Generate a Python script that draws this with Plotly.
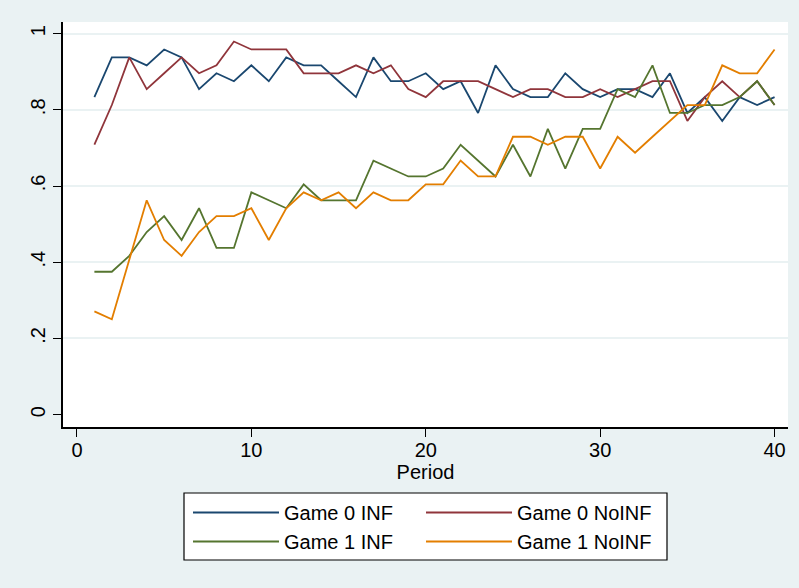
import plotly.graph_objects as go

period = list(range(1, 41))

game0_inf = [0.8333, 0.9375, 0.9375, 0.9167, 0.9583, 0.9375, 0.8542, 0.8958, 0.875, 0.9167,
             0.875, 0.9375, 0.9167, 0.9167, 0.875, 0.8333, 0.9375, 0.875, 0.875, 0.8958,
             0.8542, 0.875, 0.7917, 0.9167, 0.8542, 0.8333, 0.8333, 0.8958, 0.8542, 0.8333,
             0.8542, 0.8542, 0.8333, 0.8958, 0.7917, 0.8333, 0.7708, 0.8333, 0.8125, 0.8333]

game0_noinf = [0.7083, 0.8125, 0.9375, 0.8542, 0.8958, 0.9375, 0.8958, 0.9167, 0.9792, 0.9583,
               0.9583, 0.9583, 0.8958, 0.8958, 0.8958, 0.9167, 0.8958, 0.9167, 0.8542, 0.8333,
               0.875, 0.875, 0.875, 0.8542, 0.8333, 0.8542, 0.8542, 0.8333, 0.8333, 0.8542,
               0.8333, 0.8542, 0.875, 0.875, 0.7708, 0.8333, 0.875, 0.8333, 0.875, 0.8125]

game1_inf = [0.375, 0.375, 0.4167, 0.4792, 0.5208, 0.4583, 0.5417, 0.4375, 0.4375, 0.5833,
             0.5625, 0.5417, 0.6042, 0.5625, 0.5625, 0.5625, 0.6667, 0.6458, 0.625, 0.625,
             0.6458, 0.7083, 0.6667, 0.625, 0.7083, 0.625, 0.75, 0.6458, 0.75, 0.75,
             0.8542, 0.8333, 0.9167, 0.7917, 0.7917, 0.8125, 0.8125, 0.8333, 0.875, 0.8125]

game1_noinf = [0.2708, 0.25, 0.4063, 0.5625, 0.4583, 0.4167, 0.4792, 0.5208, 0.5208, 0.5417,
               0.4583, 0.5417, 0.5833, 0.5625, 0.5833, 0.5417, 0.5833, 0.5625, 0.5625, 0.6042,
               0.6042, 0.6667, 0.625, 0.625, 0.7292, 0.7292, 0.7083, 0.7292, 0.7292, 0.6458,
               0.7292, 0.6875, 0.7292, 0.7708, 0.8125, 0.8125, 0.9167, 0.8958, 0.8958, 0.9583]

series_names = ["Game 0 INF", "Game 0 NoINF", "Game 1 INF", "Game 1 NoINF"]
series_values = [game0_inf, game0_noinf, game1_inf, game1_noinf]
series_colors = ["#1A476F", "#90353B", "#55752F", "#E37E00"]
series_legend = ["legend", "legend2", "legend", "legend2"]

x_ticks = [0, 10, 20, 30, 40]
y_ticks = [0, 0.2, 0.4, 0.6, 0.8, 1]
y_ticktext = ["0", ".2", ".4", ".6", ".8", "1"]
grid_ticks = [0.2, 0.4, 0.6, 0.8, 1]

FONT = "Liberation Sans, Arial, sans-serif"
BG = "#EAF2F3"
FS = 20

fig = go.Figure()
for name, vals, col, lg in zip(series_names, series_values, series_colors, series_legend):
    fig.add_trace(go.Scatter(x=period, y=vals, mode="lines", name=name,
                             line=dict(color=col, width=1.8), legend=lg,
                             legendgroup=name))

# dummy trace for grid overlay axis
fig.add_trace(go.Scatter(x=[None], y=[None], yaxis="y2", showlegend=False,
                         hoverinfo="skip"))

yr = [-0.0325, 1.0304]
W, H = 799, 588
ml, mr, mt, mb = 63, 11, 22, 161
pw = W - ml - mr
ph = H - mt - mb

def px2paper_x(px):
    return (px - ml) / pw

def py2paper_y(py):
    return (H - mb - py) / ph

fig.update_layout(
    template="none",
    width=W, height=H,
    margin=dict(l=ml, r=mr, t=mt, b=mb, pad=0, autoexpand=False),
    paper_bgcolor=BG, plot_bgcolor="white",
    font=dict(family=FONT, size=FS, color="black"),
    xaxis=dict(range=[-0.80, 40.77], tickvals=x_ticks, ticks="outside", ticklen=8,
               tickwidth=1.3, tickcolor="black", showline=True, linecolor="black",
               linewidth=1.5, showgrid=False, zeroline=False, automargin=False,
               ticklabelstandoff=-4,
               title=dict(text="Period", standoff=0, font=dict(size=FS))),
    yaxis=dict(range=yr, tickvals=y_ticks, ticktext=y_ticktext, tickangle=-90,
               ticks="outside", ticklen=8, tickwidth=1.3, tickcolor="black",
               showline=True, linecolor="black", linewidth=1.5, showgrid=False,
               zeroline=False, automargin=False),
    yaxis2=dict(range=yr, overlaying="y", tickvals=grid_ticks, showgrid=True,
                gridcolor=BG, gridwidth=1.5, showticklabels=False, ticks="",
                showline=False, zeroline=False, automargin=False),
    legend=dict(x=px2paper_x(188), y=py2paper_y(493), xanchor="left", yanchor="top",
                orientation="v", bgcolor="rgba(0,0,0,0)", borderwidth=0,
                itemwidth=86, font=dict(size=FS), tracegroupgap=0),
    legend2=dict(x=px2paper_x(421), y=py2paper_y(493), xanchor="left", yanchor="top",
                 orientation="v", bgcolor="rgba(0,0,0,0)", borderwidth=0,
                 itemwidth=86, font=dict(size=FS), tracegroupgap=0),
    shapes=[dict(type="rect", xref="paper", yref="paper",
                 x0=px2paper_x(184), x1=px2paper_x(667),
                 y0=py2paper_y(560), y1=py2paper_y(493),
                 line=dict(color="black", width=1.2), fillcolor="white", layer="below")],
    showlegend=True,
)

fig.write_html("out.html", config={"displayModeBar": False},
               post_script="document.body.style.margin='0px';document.body.style.overflow='hidden';")
